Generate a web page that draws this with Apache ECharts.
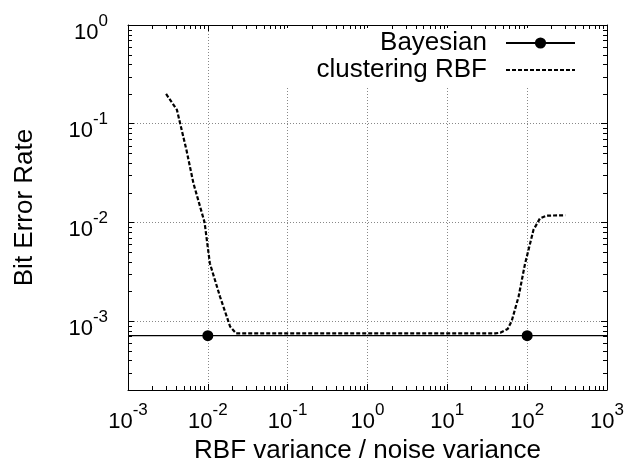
<!DOCTYPE html>
<html><head><meta charset="utf-8">
<script src="https://cdn.jsdelivr.net/npm/echarts@6/dist/echarts.min.js"></script>
<style>html,body{margin:0;padding:0;background:#fff}#c{width:629px;height:473px}</style>
</head><body><div id="c"></div>
<script>
// ---- data ----
const seriesNames = ['Bayesian', 'clustering RBF'];
const bayesX = [0.001, 0.01, 100, 1000];
const bayesY = [7.1e-4, 7.1e-4, 7.1e-4, 7.1e-4];
const bayesMarked = [false, true, true, false];
const rbfX = [0.003, 0.0041, 0.0054, 0.0066, 0.0091, 0.0106, 0.0142, 0.019, 0.0226, 0.1, 1, 10, 30, 40, 46, 57, 64, 78, 94, 120, 145, 175, 300];
const rbfY = [0.2, 0.138, 0.054, 0.0249, 0.01, 0.00385, 0.00177, 0.00088, 0.00075, 0.00075, 0.00075, 0.00075, 0.00075, 0.00075, 0.00076, 0.00083, 0.001, 0.00176, 0.0038, 0.0084, 0.011, 0.0117, 0.0118];
const xTickExponents = [-3, -2, -1, 0, 1, 2, 3];
const yTickExponents = [-3, -2, -1, 0];
const xRange = [1e-3, 1e3];
const yRange = [2e-4, 1];
const minorMultipliers = [2, 3, 4, 5, 6, 7, 8, 9];
const xDecades = [1e-3, 1e-2, 1e-1, 1, 1e1, 1e2];
const yDecades = [1e-4, 1e-3, 1e-2, 1e-1];

const FONT = '"Liberation Sans", Arial, Helvetica, sans-serif';
const xMinor = [];
xDecades.forEach(d => minorMultipliers.forEach(m => xMinor.push(d * m)));
const yMinor = [];
yDecades.forEach(d => minorMultipliers.forEach(m => { const v = d * m; if (v > yRange[0] && v < yRange[1]) yMinor.push(v); }));

function powLabel(exps) {
  return function (v) {
    const l = Math.log10(v), e = Math.round(l);
    if (Math.abs(l - e) > 1e-6 || exps.indexOf(e) < 0) return '';
    return '{b|10}{s|' + e + '}';
  };
}
const rich = {
  b: { fontSize: 22, fontFamily: FONT, color: '#000', lineHeight: 31, verticalAlign: 'bottom' },
  s: { fontSize: 17, fontFamily: FONT, color: '#000', lineHeight: 17, verticalAlign: 'top' }
};

const MINOR = 4;
const chart = echarts.init(document.getElementById('c'));
function minorRender(side) {
  return function (params, api) {
    const cs = params.coordSys;
    const p = api.coord([api.value(0), api.value(1)]);
    let shape;
    if (side === 'x') {
      const x = Math.round(p[0]) + 0.5;
      shape = [
        { x1: x, y1: cs.y + cs.height, x2: x, y2: cs.y + cs.height - MINOR },
        { x1: x, y1: cs.y, x2: x, y2: cs.y + MINOR }];
    } else {
      const y = Math.round(p[1]) + 0.5;
      shape = [
        { x1: cs.x, y1: y, x2: cs.x + MINOR, y2: y },
        { x1: cs.x + cs.width, y1: y, x2: cs.x + cs.width - MINOR, y2: y }];
    }
    return { type: 'group', children: shape.map(s => ({ type: 'line', shape: s, style: { stroke: '#000', lineWidth: 1, fill: null } })) };
  };
}
chart.setOption({
  animation: false,
  backgroundColor: '#fff',
  grid: { left: 128, right: 22, top: 25, bottom: 83 },
  legend: {
    data: [
      { name: seriesNames[0] },
      { name: seriesNames[1], itemStyle: { opacity: 0 } }
    ],
    orient: 'vertical',
    align: 'right',
    right: 34,
    top: 28,
    padding: [2, 19, 3, 40],
    itemWidth: 69,
    itemHeight: 14,
    itemGap: 1,
    backgroundColor: '#fff',
    textStyle: { fontSize: 26, fontFamily: FONT, color: '#000', padding: [0, 14, 0, 0] }
  },
  xAxis: [{
    type: 'log', min: xRange[0], max: xRange[1],
    name: 'RBF variance / noise variance', nameLocation: 'middle', nameGap: 48,
    nameTextStyle: { fontSize: 26, fontFamily: FONT, color: '#000' },
    axisLine: { lineStyle: { color: '#000', width: 1 } },
    axisTick: { inside: true, length: 6, lineStyle: { color: '#000' } },
    axisLabel: { formatter: powLabel(xTickExponents), rich: rich, margin: 12 },
    splitLine: { show: true, lineStyle: { color: '#888', type: [1, 2], width: 1 } }
  }, {
    type: 'log', min: xRange[0], max: xRange[1], position: 'top',
    axisLine: { lineStyle: { color: '#000', width: 1 } },
    axisTick: { inside: true, length: 6, lineStyle: { color: '#000' } },
    axisLabel: { show: false }, splitLine: { show: false }
  }],
  yAxis: [{
    type: 'log', min: yRange[0], max: yRange[1], splitNumber: 4,
    name: 'Bit Error Rate', nameLocation: 'middle', nameGap: 90,
    nameTextStyle: { fontSize: 26, fontFamily: FONT, color: '#000' },
    axisLine: { lineStyle: { color: '#000', width: 1 } },
    axisTick: { inside: true, length: 6, lineStyle: { color: '#000' } },
    axisLabel: { formatter: powLabel(yTickExponents), rich: rich, margin: 20, padding: [6, 0, 0, 0] },
    splitLine: { show: true, lineStyle: { color: '#888', type: [1, 2], width: 1 } }
  }, {
    type: 'log', min: yRange[0], max: yRange[1], splitNumber: 4, position: 'right',
    axisLine: { lineStyle: { color: '#000', width: 1 } },
    axisTick: { inside: true, length: 6, lineStyle: { color: '#000' } },
    axisLabel: { show: false }, splitLine: { show: false }
  }],
  series: [
    {
      name: 'Bayesian', type: 'line',
      data: bayesX.map((x, i) => bayesMarked[i] ? [x, bayesY[i]] : { value: [x, bayesY[i]], symbol: 'none' }),
      symbol: 'circle', symbolSize: 11, showSymbol: true,
      itemStyle: { color: '#000' },
      lineStyle: { color: '#000', width: 1.3 },
      z: 3
    },
    {
      name: 'clustering RBF', type: 'line',
      data: rbfX.map((x, i) => [x, rbfY[i]]),
      symbol: 'none',
      itemStyle: { color: '#000' },
      lineStyle: { color: '#000', width: 2.2, type: [4, 2] },
      z: 4
    },
    {
      name: 'xminor', type: 'custom', coordinateSystem: 'cartesian2d', silent: true, clip: false, z: 10,
      data: xMinor.map(v => [v, 0.001]), renderItem: minorRender('x')
    },
    {
      name: 'yminor', type: 'custom', coordinateSystem: 'cartesian2d', silent: true, clip: false, z: 10,
      data: yMinor.map(v => [1, v]), renderItem: minorRender('y')
    }
  ]
});
</script></body></html>
